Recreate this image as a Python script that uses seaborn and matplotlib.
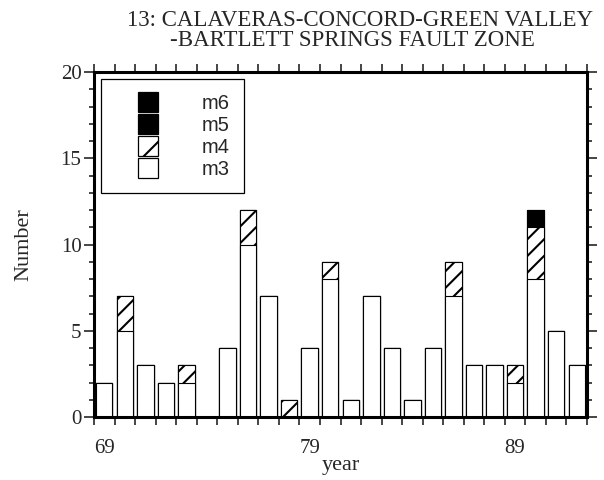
import matplotlib
matplotlib.use("Agg")
import matplotlib.pyplot as plt
from matplotlib.patches import Patch, Rectangle
from matplotlib.legend_handler import HandlerPatch
from matplotlib.ticker import FixedLocator, NullFormatter
import numpy as np
import pandas as pd
import seaborn as sns

# Yearly earthquake counts by magnitude class
years = list(range(69, 93))
m3 = [2, 5, 3, 2, 2, 0, 4, 10, 7, 0, 4, 8, 1, 7, 4, 1, 4, 7, 3, 3, 2, 8, 5, 3]
m4 = [0, 2, 0, 0, 1, 0, 0, 2, 0, 1, 0, 1, 0, 0, 0, 0, 0, 2, 0, 0, 1, 3, 0, 0]
m5 = [0, 0, 0, 0, 0, 0, 0, 0, 0, 0, 0, 0, 0, 0, 0, 0, 0, 0, 0, 0, 0, 1, 0, 0]
m6 = [0, 0, 0, 0, 0, 0, 0, 0, 0, 0, 0, 0, 0, 0, 0, 0, 0, 0, 0, 0, 0, 0, 0, 0]

x_labels = ["69", "79", "89"]
y_ticks = [0, 5, 10, 15, 20]
title_lines = ["13: CALAVERAS-CONCORD-GREEN VALLEY", "-BARTLETT SPRINGS FAULT ZONE"]

sns.set_style("ticks")
plt.rcParams["hatch.linewidth"] = 1.5
plt.rcParams["font.family"] = ["Liberation Serif", "DejaVu Serif"]

df = pd.DataFrame({"year": years, "m3": m3, "m4": m4, "m5": m5, "m6": m6})
df["c3"] = df["m3"]
df["c4"] = df["c3"] + df["m4"]
df["c5"] = df["c4"] + df["m5"]
df["c6"] = df["c5"] + df["m6"]

W, H = 604, 480
fig = plt.figure(figsize=(W / 100, H / 100), dpi=100)
ax_l, ax_r, ax_t, ax_b = 94, 587, 72, 417
ax = fig.add_axes([ax_l / W, 1 - ax_b / H, (ax_r - ax_l) / W, (ax_b - ax_t) / H])

# stacked bars drawn back-to-front as cumulative totals
layers = [
    ("c6", dict(color="black")),
    ("c5", dict(color="black")),
    ("c4", dict(color="white", hatch="//")),
    ("c3", dict(color="white")),
]
for col, style in layers:
    sns.barplot(data=df, x="year", y=col, native_scale=True, width=0.8,
                saturation=1, errorbar=None, edgecolor="black", linewidth=0.8,
                ax=ax, **style)

ax.set_xlim(68.5, 92.5)
ax.set_ylim(0, 20)

# x: labels at year centres, tick marks on year boundaries
ax.xaxis.set_major_locator(FixedLocator([69, 79, 89]))
ax.set_xticklabels(x_labels)
ax.xaxis.set_minor_locator(FixedLocator(np.arange(68.5, 93, 1)))
ax.xaxis.set_minor_formatter(NullFormatter())
ax.yaxis.set_major_locator(FixedLocator(y_ticks))
ax.set_yticklabels([str(v) for v in y_ticks])
ax.yaxis.set_minor_locator(FixedLocator(np.arange(0, 21, 1)))

ax.tick_params(axis="x", which="major", length=0, pad=16, labelsize=15,
               top=True, bottom=True)
ax.tick_params(axis="x", which="minor", direction="out", length=5.8, width=1.2,
               top=True, bottom=True)
ax.tick_params(axis="y", which="major", direction="out", length=7, width=1.2,
               pad=2, labelsize=15, left=True, right=True)
ax.tick_params(axis="y", which="minor", direction="out", length=3.6, width=1.2,
               left=True, right=True)

for side in ["left", "right", "top", "bottom"]:
    ax.spines[side].set_visible(True)
    ax.spines[side].set_linewidth(2.2)
    ax.spines[side].set_color("black")

ax.set_xlabel("year", fontsize=16)
ax.set_ylabel("Number", fontsize=16)
ax.xaxis.set_label_coords(0.5, (ax_b - 470) / (ax_b - ax_t))
ax.xaxis.label.set_va("baseline")
ax.yaxis.set_label_coords((33 - ax_l) / (ax_r - ax_l), 0.5)

fig.text(360 / W, 1 - 26 / H, title_lines[0], ha="center", va="baseline", fontsize=16.5)
fig.text(352 / W, 1 - 46 / H, title_lines[1], ha="center", va="baseline", fontsize=16.5)

# legend with squares set to the right of a wide handle box
SQ = 14.4


def square_handle(legend, orig_handle, xdescent, ydescent, width, height, fontsize):
    return Rectangle((width - SQ - xdescent, (height - SQ) / 2 - ydescent), SQ, SQ)


handles = [
    Patch(facecolor="black", edgecolor="black", linewidth=0.9, label="m6"),
    Patch(facecolor="black", edgecolor="black", linewidth=0.9, label="m5"),
    Patch(facecolor="white", edgecolor="black", linewidth=0.9, hatch="/", label="m4"),
    Patch(facecolor="white", edgecolor="black", linewidth=0.9, label="m3"),
]
leg = ax.legend(handles=handles, loc="upper left", bbox_to_anchor=(0, 1),
                borderaxespad=0.36, fancybox=False, framealpha=1, edgecolor="black",
                prop={"family": "Liberation Sans", "size": 14.5},
                handlelength=2.1, handleheight=1.0, handletextpad=2.2,
                labelspacing=0.1, borderpad=0.7,
                handler_map={Patch: HandlerPatch(patch_func=square_handle)})
leg.get_frame().set_linewidth(0.9)

fig.savefig("out.png", dpi=100)
